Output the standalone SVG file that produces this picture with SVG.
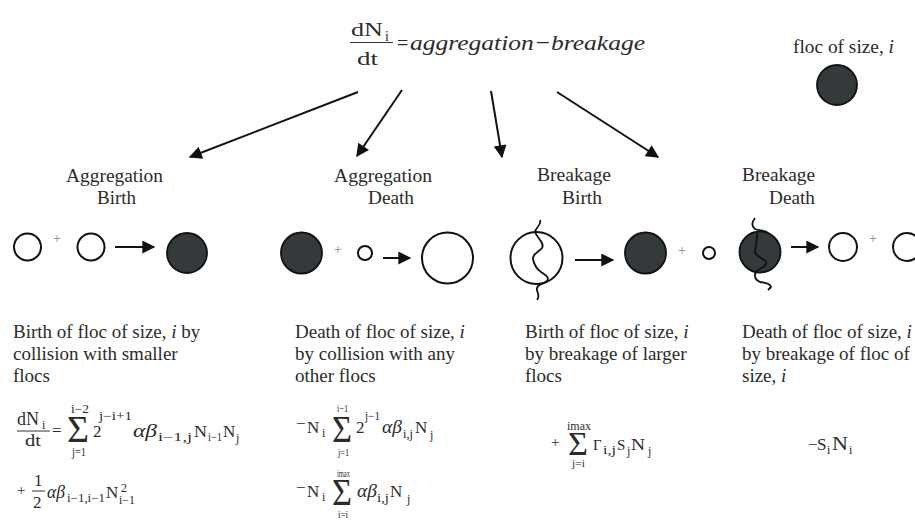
<svg xmlns="http://www.w3.org/2000/svg" width="915" height="521" viewBox="0 0 915 521" font-family="'Liberation Serif', 'DejaVu Serif', serif">
<defs>
<style>
text{font-family:'Liberation Serif','DejaVu Serif',serif;fill:#2b2b2b}
.h{font-size:19px}
.d{font-size:19px}
.m{font-size:17px}
.s{font-size:12px}
.ss{font-size:11px}
.it{font-style:italic}
.sum{font-size:37px}
.pl{font-size:14px;fill:#888}
.conn{stroke:#111;stroke-width:2;fill:none}
.rarr{stroke:#111;stroke-width:2;fill:none}
.open{fill:#fff;stroke:#111;stroke-width:2}
.fill{fill:#343a3c;stroke:#111;stroke-width:1.8}
.wave{fill:none;stroke:#111;stroke-width:1.8;stroke-linejoin:round}
.bar{stroke:#333;stroke-width:1}
</style>
<marker id="ah" viewBox="0 0 10 10" refX="9" refY="5" markerWidth="8" markerHeight="6.5" orient="auto" markerUnits="strokeWidth">
<path d="M0,0 L10,5 L0,10 Z" fill="#111"/>
</marker>
<marker id="ah2" viewBox="0 0 10 10" refX="9" refY="5" markerWidth="7" markerHeight="6.5" orient="auto" markerUnits="strokeWidth">
<path d="M0,0 L10,5 L0,10 Z" fill="#111"/>
</marker>
</defs>
<rect width="915" height="521" fill="#fff"/>

<g id="title">
<text x="351" y="36" font-size="19" textLength="32" lengthAdjust="spacingAndGlyphs">dN</text>
<text x="385" y="41" font-size="14">i</text>
<line class="bar" x1="350" y1="42.5" x2="393" y2="42.5"/>
<text x="357" y="65" font-size="19" textLength="21" lengthAdjust="spacingAndGlyphs">dt</text>
<text x="397" y="50" font-size="20">=</text>
<text x="410" y="50" font-size="22" class="it" textLength="235" lengthAdjust="spacingAndGlyphs">aggregation−breakage</text>
</g>

<g id="legend">
<text x="793" y="53" font-size="19" textLength="101" lengthAdjust="spacingAndGlyphs">floc of size, <tspan class="it">i</tspan></text>
<circle class="fill" cx="837" cy="85" r="20"/>
</g>

<g id="connectors">
<line class="conn" x1="358" y1="92" x2="190" y2="157" marker-end="url(#ah)"/>
<line class="conn" x1="402" y1="90" x2="357" y2="156" marker-end="url(#ah)"/>
<line class="conn" x1="491" y1="91" x2="502" y2="157" marker-end="url(#ah)"/>
<line class="conn" x1="557" y1="92" x2="658" y2="157" marker-end="url(#ah)"/>
</g>

<g id="agg-birth">
<text class="h" x="66" y="182" textLength="97" lengthAdjust="spacingAndGlyphs">Aggregation</text>
<text class="h" x="97" y="204" textLength="39" lengthAdjust="spacingAndGlyphs">Birth</text>
<circle class="open" cx="27.5" cy="247" r="13.5"/>
<text class="pl" x="57" y="243" text-anchor="middle">+</text>
<circle class="open" cx="91" cy="247" r="13.5"/>
<line class="rarr" x1="115" y1="247" x2="154" y2="247" marker-end="url(#ah2)"/>
<circle class="fill" cx="187" cy="253" r="20"/>
<text class="d" x="13" y="338">Birth of floc of size, <tspan class="it">i</tspan> by</text>
<text class="d" x="13" y="360">collision with smaller</text>
<text class="d" x="13" y="382">flocs</text>
<text x="17" y="425" font-size="18" textLength="22" lengthAdjust="spacingAndGlyphs">dN</text>
<text class="s" x="42" y="429">i</text>
<line class="bar" x1="17" y1="431" x2="50" y2="431"/>
<text class="m" x="25" y="446" textLength="16" lengthAdjust="spacingAndGlyphs">dt</text>
<text class="m" x="52" y="436">=</text>
<text class="sum" x="67" y="442" textLength="22" lengthAdjust="spacingAndGlyphs">Σ</text>
<text class="s" x="71" y="413" textLength="18" lengthAdjust="spacingAndGlyphs">i−2</text>
<text class="s" x="72" y="456" textLength="14" lengthAdjust="spacingAndGlyphs">j=1</text>
<text class="m" x="93" y="437">2</text>
<text class="s" x="99" y="420" textLength="33" lengthAdjust="spacingAndGlyphs">j−i+1</text>
<text class="it" x="133" y="437" font-size="18" textLength="24" lengthAdjust="spacingAndGlyphs">αβ</text>
<text class="s" x="158" y="441" textLength="34" lengthAdjust="spacingAndGlyphs">i−1,j</text>
<text class="m" x="194" y="437" textLength="13" lengthAdjust="spacingAndGlyphs">N</text>
<text class="s" x="208" y="441" textLength="14" lengthAdjust="spacingAndGlyphs">i−1</text>
<text class="m" x="223" y="437">N</text>
<text class="s" x="236" y="442">j</text>
<text x="17" y="495" font-size="15" fill="#777">+</text>
<text class="m" x="34" y="486">1</text>
<line class="bar" x1="32" y1="491" x2="45" y2="491"/>
<text class="m" x="33" y="508">2</text>
<text class="it" x="47" y="498" font-size="18" textLength="18" lengthAdjust="spacingAndGlyphs">αβ</text>
<text class="s" x="67" y="502" textLength="38" lengthAdjust="spacingAndGlyphs">i−1,i−1</text>
<text class="m" x="106" y="498">N</text>
<text class="s" x="121" y="492">2</text>
<text class="s" x="119" y="504" textLength="16" lengthAdjust="spacingAndGlyphs">i−1</text>
</g>

<g id="agg-death">
<text class="h" x="334" y="182" textLength="98" lengthAdjust="spacingAndGlyphs">Aggregation</text>
<text class="h" x="368" y="204" textLength="46" lengthAdjust="spacingAndGlyphs">Death</text>
<circle class="fill" cx="301.5" cy="253" r="20.5"/>
<text class="pl" x="338" y="254" text-anchor="middle">+</text>
<circle class="open" cx="365" cy="253" r="7"/>
<line class="rarr" x1="383" y1="258" x2="410" y2="258" marker-end="url(#ah2)"/>
<circle class="open" cx="447.5" cy="258" r="25.5"/>
<text class="d" x="295" y="338">Death of floc of size, <tspan class="it">i</tspan></text>
<text class="d" x="295" y="360">by collision with any</text>
<text class="d" x="295" y="382">other flocs</text>
<text class="m" x="296" y="429">−</text>
<text class="m" x="307" y="433">N</text>
<text class="s" x="322" y="437">i</text>
<text class="sum" x="332" y="442" textLength="20" lengthAdjust="spacingAndGlyphs">Σ</text>
<text class="ss" x="337" y="412" textLength="11" lengthAdjust="spacingAndGlyphs">i−1</text>
<text class="ss" x="338" y="456" textLength="11" lengthAdjust="spacingAndGlyphs">j=1</text>
<text class="m" x="356" y="433">2</text>
<text class="s" x="365" y="420" textLength="15" lengthAdjust="spacingAndGlyphs">j−1</text>
<text class="it" x="382" y="433" font-size="18" textLength="20" lengthAdjust="spacingAndGlyphs">αβ</text>
<text class="s" x="403" y="438" textLength="10" lengthAdjust="spacingAndGlyphs">i,j</text>
<text class="m" x="415" y="433">N</text>
<text class="s" x="430" y="439">j</text>
<text class="m" x="296" y="493">−</text>
<text class="m" x="307" y="497">N</text>
<text class="s" x="322" y="501">i</text>
<text class="sum" x="332" y="505" textLength="20" lengthAdjust="spacingAndGlyphs">Σ</text>
<text class="ss" x="337" y="477" textLength="13" lengthAdjust="spacingAndGlyphs">imax</text>
<text class="ss" x="338" y="518" textLength="10" lengthAdjust="spacingAndGlyphs">i=i</text>
<text class="it" x="357" y="497" font-size="18" textLength="20" lengthAdjust="spacingAndGlyphs">αβ</text>
<text class="s" x="377" y="502" textLength="12" lengthAdjust="spacingAndGlyphs">i,j</text>
<text class="m" x="390" y="497">N</text>
<text class="s" x="407" y="503">j</text>
</g>

<g id="brk-birth">
<text class="h" x="537" y="181" textLength="74" lengthAdjust="spacingAndGlyphs">Breakage</text>
<text class="h" x="562" y="204" textLength="40" lengthAdjust="spacingAndGlyphs">Birth</text>
<circle class="open" cx="536.5" cy="258" r="26"/>
<path class="wave" d="M540,220 C542,225 535,228 535,232 C537,238 545,243 542,248 C539,252 532,254 533,259 C534,265 537,269 541,272 C545,275 550,277 547,281 C544,284 538,284 537,288 C536,292 541,295 537,300"/>
<line class="rarr" x1="575" y1="260" x2="613" y2="260" marker-end="url(#ah2)"/>
<circle class="fill" cx="645.5" cy="253" r="20.5"/>
<text class="pl" x="682" y="255" text-anchor="middle">+</text>
<circle class="open" cx="709" cy="253" r="6"/>
<text class="d" x="525" y="338">Birth of floc of size, <tspan class="it">i</tspan></text>
<text class="d" x="525" y="360">by breakage of larger</text>
<text class="d" x="525" y="382">flocs</text>
<text x="551" y="447" font-size="15" fill="#777">+</text>
<text x="568" y="455" font-size="34" textLength="20" lengthAdjust="spacingAndGlyphs">Σ</text>
<text x="567" y="430" font-size="12" textLength="24" lengthAdjust="spacingAndGlyphs">imax</text>
<text class="ss" x="572" y="467" textLength="13" lengthAdjust="spacingAndGlyphs">j=i</text>
<text x="593" y="450" font-size="15" fill="#555">Γ</text>
<text class="s" x="603" y="454" textLength="13" lengthAdjust="spacingAndGlyphs">i,j</text>
<text x="617" y="450" font-size="15">S</text>
<text class="s" x="627" y="455">j</text>
<text class="m" x="631" y="450" textLength="14" lengthAdjust="spacingAndGlyphs">N</text>
<text class="s" x="648" y="455">j</text>
</g>

<g id="brk-death">
<text class="h" x="742" y="181" textLength="73" lengthAdjust="spacingAndGlyphs">Breakage</text>
<text class="h" x="769" y="204" textLength="46" lengthAdjust="spacingAndGlyphs">Death</text>
<circle class="fill" cx="760" cy="252" r="20.5"/>
<path class="wave" d="M755,218 C752,222 751,226 755,229 C759,231 765,230 768,233"/>
<path class="wave" d="M757,233 C757,238 756,246 755,253 C758,257 764,259 766,262 C768,266 760,268 757,271 C753,275 755,280 760,282 C765,283 770,283 771,287 L768,290"/>
<line class="rarr" x1="791" y1="247" x2="818" y2="247" marker-end="url(#ah2)"/>
<circle class="open" cx="843" cy="247" r="14"/>
<text class="pl" x="873" y="243" text-anchor="middle">+</text>
<circle class="open" cx="907" cy="247" r="14"/>
<text class="d" x="742" y="338">Death of floc of size, <tspan class="it">i</tspan></text>
<text class="d" x="742" y="360">by breakage of floc of</text>
<text class="d" x="742" y="382">size, <tspan class="it">i</tspan></text>
<text class="m" x="808" y="450">−</text>
<text class="m" x="817" y="450">S</text>
<text class="s" x="827" y="454">i</text>
<text x="832" y="450" font-size="19" textLength="16" lengthAdjust="spacingAndGlyphs">N</text>
<text class="s" x="849" y="454">i</text>
</g>
</svg>
